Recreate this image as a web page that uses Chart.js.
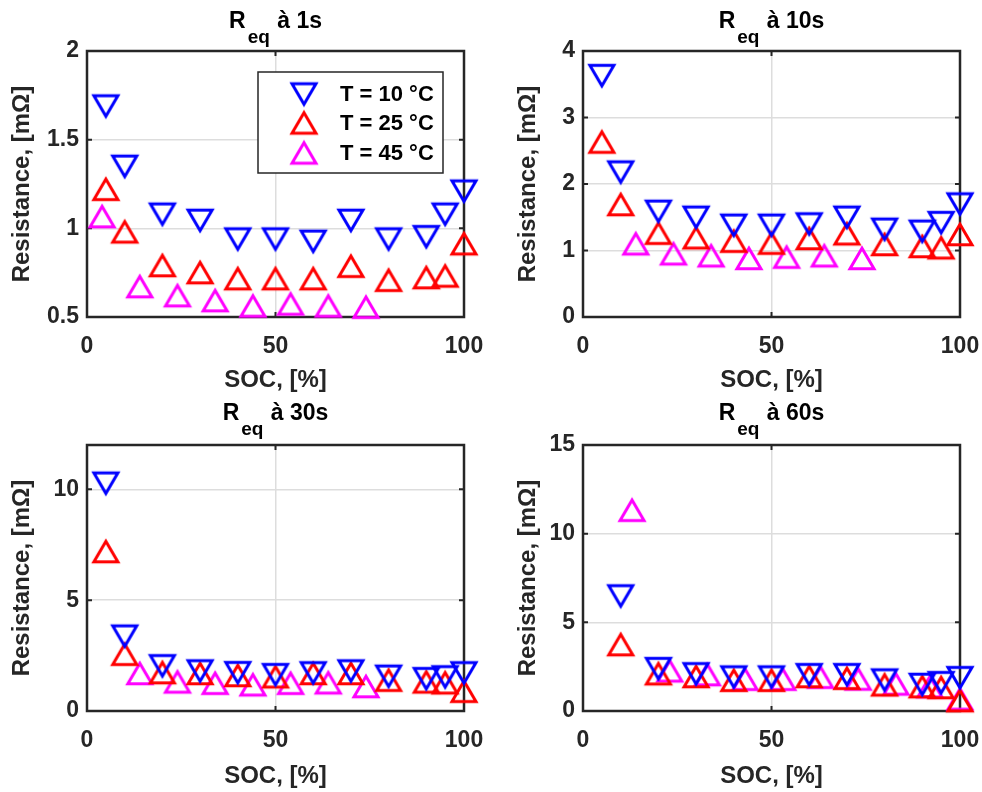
<!DOCTYPE html>
<html>
<head>
<meta charset="utf-8">
<script src="https://cdn.jsdelivr.net/npm/chart.js@4.4.1/dist/chart.umd.min.js"></script>
<style>
html,body{margin:0;padding:0;background:#fff;}
#wrap{position:relative;width:982px;height:792px;overflow:hidden;background:#fff;}
#wrap canvas{position:absolute;}
</style>
</head>
<body>
<div id="wrap">
  <canvas id="c1" width="491" height="396" style="left:0;top:0"></canvas>
  <canvas id="c2" width="491" height="396" style="left:491px;top:0"></canvas>
  <canvas id="c3" width="491" height="396" style="left:0;top:396px"></canvas>
  <canvas id="c4" width="491" height="396" style="left:491px;top:396px"></canvas>
</div>
<script>
// ---------------- DATA ----------------
const seriesLabels = ['T = 10 °C', 'T = 25 °C', 'T = 45 °C'];
const titleMain = 'R';
const titleSub = 'eq';
const titleRest = [' à 1s', ' à 10s', ' à 30s', ' à 60s'];
const xTitle = 'SOC, [%]';
const yTitle = 'Resistance, [mΩ]';

const xTicks = [0, 50, 100];
const yTicks1s = [0.5, 1, 1.5, 2];
const yTicks10s = [0, 1, 2, 3, 4];
const yTicks30s = [0, 5, 10];
const yTicks60s = [0, 5, 10, 15];
const yMin = [0.5, 0, 0, 0];
const yMax = [2, 4, 12, 15];

// SOC values
const soc = [5, 10, 20, 30, 40, 50, 60, 70, 80, 90, 95, 100];
const soc60 = [10, 20, 30, 40, 50, 60, 70, 80, 90, 95, 100];
const soc45_1s = [4, 14, 24, 34, 44, 54, 64, 74];
const soc45_mid = [14, 24, 34, 44, 54, 64, 74];
const soc45_60s = [13, 23, 33, 43, 53, 63, 73, 83, 92, 100];

// Req at 1 s [mOhm]
const r1s_T10 = [1.69, 1.35, 1.08, 1.045, 0.94, 0.94, 0.927, 1.045, 0.94, 0.953, 1.08, 1.21];
const r1s_T25 = [1.22, 0.98, 0.79, 0.75, 0.716, 0.716, 0.716, 0.786, 0.707, 0.722, 0.731, 0.913];
const r1s_T45 = [1.066, 0.671, 0.62, 0.592, 0.562, 0.573, 0.562, 0.555];

// Req at 10 s
const r10s_T10 = [3.63, 2.18, 1.59, 1.50, 1.38, 1.38, 1.40, 1.50, 1.32, 1.29, 1.42, 1.70];
const r10s_T25 = [2.63, 1.69, 1.26, 1.19, 1.14, 1.11, 1.18, 1.25, 1.09, 1.06, 1.04, 1.24];
const r10s_T45 = [1.10, 0.95, 0.92, 0.88, 0.90, 0.92, 0.88];

// Req at 30 s
const r30s_T10 = [10.28, 3.38, 2.04, 1.81, 1.73, 1.64, 1.72, 1.81, 1.57, 1.46, 1.54, 1.72];
const r30s_T25 = [7.19, 2.56, 1.73, 1.69, 1.60, 1.54, 1.69, 1.69, 1.39, 1.31, 1.27, 0.89];
const r30s_T45 = [1.69, 1.31, 1.25, 1.18, 1.25, 1.27, 1.10];

// Req at 60 s
const r60s_T10 = [6.49, 2.39, 2.10, 1.92, 1.92, 2.05, 2.05, 1.75, 1.50, 1.60, 1.88];
const r60s_T25 = [3.74, 2.10, 1.94, 1.73, 1.73, 1.94, 1.84, 1.47, 1.37, 1.32, 0.58];
const r60s_T45 = [11.32, 2.26, 2.05, 1.79, 1.79, 1.90, 1.80, 1.52, 1.37, 0.68];

// ---------------- STYLE ----------------
const FAM = '"Liberation Sans", Arial, Helvetica, sans-serif';
const AX = '#262626';
const GRID = '#dddddd';
const colors = ['#0000ff', '#ff0000', '#ff00ff'];

function makeTri(color, down) {
  const w = 24, h = 20.5, lw = 3, pad = 6;
  const c = document.createElement('canvas');
  c.width = Math.ceil(w + 2 * pad);
  c.height = Math.ceil(h + 2 * pad);
  const g = c.getContext('2d');
  const cx = c.width / 2, cy = c.height / 2;
  g.strokeStyle = color; g.lineWidth = lw; g.lineJoin = 'miter'; g.miterLimit = 10;
  g.beginPath();
  if (down) {
    g.moveTo(cx - w / 2, cy - h / 2); g.lineTo(cx + w / 2, cy - h / 2); g.lineTo(cx, cy + h / 2);
  } else {
    g.moveTo(cx - w / 2, cy + h / 2); g.lineTo(cx + w / 2, cy + h / 2); g.lineTo(cx, cy - h / 2);
  }
  g.closePath(); g.stroke();
  return c;
}
const markers = [makeTri(colors[0], true), makeTri(colors[1], false), makeTri(colors[2], false)];

const framePlugin = {
  id: 'frame',
  beforeDatasetsDraw(chart) {
    const { ctx, chartArea: a } = chart;
    ctx.save();
    ctx.strokeStyle = AX;
    ctx.lineWidth = 2;
    const tl = 5;
    ctx.beginPath();
    chart.scales.x.ticks.forEach(t => {
      const px = chart.scales.x.getPixelForValue(t.value);
      ctx.moveTo(px, a.bottom); ctx.lineTo(px, a.bottom - tl);
      ctx.moveTo(px, a.top); ctx.lineTo(px, a.top + tl);
    });
    chart.scales.y.ticks.forEach(t => {
      const py = chart.scales.y.getPixelForValue(t.value);
      ctx.moveTo(a.left, py); ctx.lineTo(a.left + tl, py);
      ctx.moveTo(a.right, py); ctx.lineTo(a.right - tl, py);
    });
    ctx.stroke();
    ctx.lineWidth = 2.5;
    ctx.strokeRect(a.left, a.top, a.right - a.left, a.bottom - a.top);
    ctx.restore();
  }
};

const titlePlugin = {
  id: 'ptitle',
  afterDraw(chart, args, opts) {
    const { ctx, chartArea: a } = chart;
    const cx = (a.left + a.right) / 2;
    const by = opts.baseline;
    const fM = 'bold 23px ' + FAM, fS = 'bold 19px ' + FAM;
    ctx.save();
    ctx.fillStyle = '#000';
    ctx.textAlign = 'left';
    ctx.textBaseline = 'alphabetic';
    ctx.font = fM;
    const wR = ctx.measureText(opts.main).width;
    const wT = ctx.measureText(opts.rest).width;
    ctx.font = fS;
    const wS = ctx.measureText(opts.sub).width;
    const total = wR + 2 + wS + 1 + wT;
    let x = cx - total / 2;
    ctx.font = fM; ctx.fillText(opts.main, x, by); x += wR + 2;
    ctx.font = fS; ctx.fillText(opts.sub, x, by + 15); x += wS + 1;
    ctx.font = fM; ctx.fillText(opts.rest, x, by);
    ctx.restore();
  }
};

const boxLegend = {
  id: 'boxLegend',
  afterDatasetsDraw(chart, args, opts) {
    if (!opts.show) return;
    const { ctx, chartArea: a } = chart;
    const w = 185, h = 101;
    const left = a.right - 21 - w, top = a.top + 21;
    ctx.save();
    ctx.fillStyle = '#fff';
    ctx.fillRect(left, top, w, h);
    ctx.strokeStyle = AX; ctx.lineWidth = 1.5;
    ctx.strokeRect(left, top, w, h);
    const rows = [22, 51, 81];
    ctx.font = 'bold 22px ' + FAM;
    ctx.fillStyle = '#000';
    ctx.textAlign = 'left';
    ctx.textBaseline = 'middle';
    chart.data.datasets.forEach((ds, i) => {
      const m = markers[i];
      const my = top + rows[i];
      ctx.drawImage(m, left + 46 - m.width / 2, my - m.height / 2);
      ctx.fillText(ds.label, left + 82, my + 1);
    });
    ctx.restore();
  }
};

const panels = [
  { id: 'c1', rest: titleRest[0], yTicks: yTicks1s, ymin: yMin[0], ymax: yMax[0], padT: 51, padR: 27, yW: 87, xH: 79, yTitlePad: 8, titleBase: 28, legend: true,
    series: [[soc, r1s_T10], [soc, r1s_T25], [soc45_1s, r1s_T45]] },
  { id: 'c2', rest: titleRest[1], yTicks: yTicks10s, ymin: yMin[1], ymax: yMax[1], padT: 51, padR: 22, yW: 92, xH: 79, yTitlePad: 23, titleBase: 28, legend: false,
    series: [[soc, r10s_T10], [soc, r10s_T25], [soc45_mid, r10s_T45]] },
  { id: 'c3', rest: titleRest[2], yTicks: yTicks30s, ymin: yMin[2], ymax: yMax[2], padT: 49, padR: 27, yW: 87, xH: 81, yTitlePad: 8, titleBase: 24, legend: false,
    series: [[soc, r30s_T10], [soc, r30s_T25], [soc45_mid, r30s_T45]] },
  { id: 'c4', rest: titleRest[3], yTicks: yTicks60s, ymin: yMin[3], ymax: yMax[3], padT: 49, padR: 22, yW: 92, xH: 81, yTitlePad: 23, titleBase: 24, legend: false,
    series: [[soc60, r60s_T10], [soc60, r60s_T25], [soc45_60s, r60s_T45]] }
];

panels.forEach(p => {
  new Chart(document.getElementById(p.id), {
    type: 'scatter',
    data: {
      datasets: p.series.map((s, i) => ({
        label: seriesLabels[i],
        data: s[0].map((x, j) => ({ x: x, y: s[1][j] })),
        pointStyle: markers[i],
        pointRadius: 14,
        pointHoverRadius: 14,
        borderColor: colors[i],
        backgroundColor: colors[i],
        showLine: false,
        clip: false
      }))
    },
    options: {
      responsive: false,
      animation: false,
      devicePixelRatio: 1,
      events: [],
      layout: { padding: { left: 0, right: p.padR, top: p.padT, bottom: 0 } },
      plugins: {
        legend: { display: false },
        tooltip: { enabled: false },
        ptitle: { main: titleMain, sub: titleSub, rest: p.rest, baseline: p.titleBase },
        boxLegend: { show: p.legend }
      },
      scales: {
        x: {
          type: 'linear', position: 'bottom', min: 0, max: 100,
          afterBuildTicks: s => { s.ticks = xTicks.map(v => ({ value: v })); },
          afterFit: s => { s.height = p.xH; s.paddingLeft = 0; s.paddingRight = 0; },
          grid: { color: GRID, lineWidth: 1.5, drawTicks: false },
          border: { display: false },
          ticks: { padding: 16, color: AX, maxRotation: 0, autoSkip: false,
                   font: { family: FAM, size: 23, weight: 'bold' } },
          title: { display: true, text: xTitle, color: AX, padding: { top: 0, bottom: 1 },
                   font: { family: FAM, size: 24, weight: 'bold' } }
        },
        y: {
          type: 'linear', position: 'left', min: p.ymin, max: p.ymax,
          afterBuildTicks: s => { s.ticks = p.yTicks.map(v => ({ value: v })); },
          afterFit: s => { s.width = p.yW; s.paddingTop = 0; s.paddingBottom = 0; },
          grid: { color: GRID, lineWidth: 1.5, drawTicks: false },
          border: { display: false },
          ticks: { padding: 8, color: AX, autoSkip: false,
                   callback: v => String(v),
                   font: { family: FAM, size: 23, weight: 'bold' } },
          title: { display: true, text: yTitle, color: AX, padding: { top: p.yTitlePad, bottom: 0 },
                   font: { family: FAM, size: 24, weight: 'bold' } }
        }
      }
    },
    plugins: [framePlugin, titlePlugin, boxLegend]
  });
});
</script>
</body>
</html>
